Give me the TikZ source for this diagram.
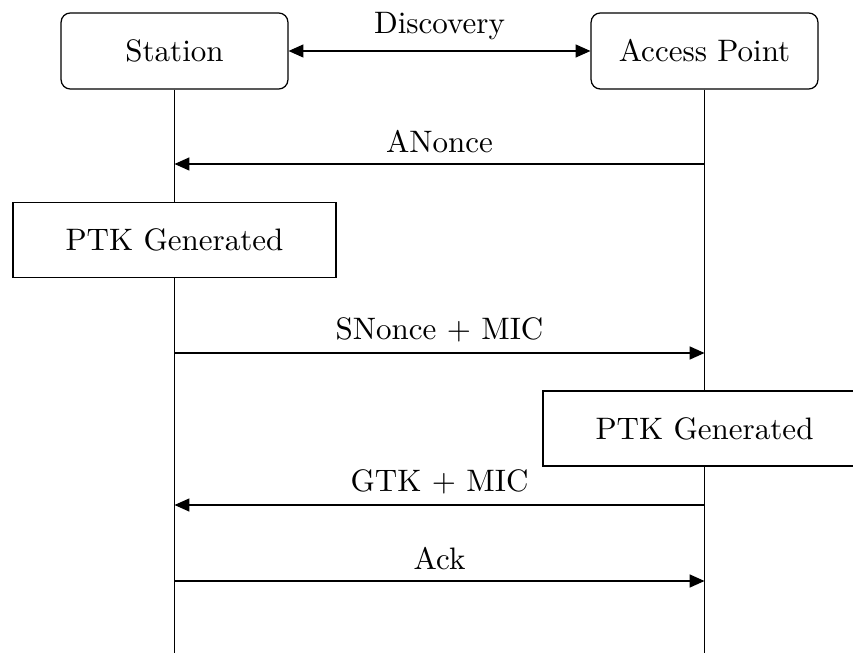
\documentclass[tikz,border=0pt]{standalone}
\usetikzlibrary{arrows.meta}
\begin{document}
\begin{tikzpicture}[x=0.3222pt,y=-0.3222pt,
  tip/.tip={Triangle[length=4.8pt,width=4.2pt]},
  actor/.style={draw,rounded corners=3pt,minimum width=73.1pt,minimum height=24.5pt,inner sep=0pt},
  eventbox/.style={draw,minimum width=104.1pt,minimum height=24.2pt,inner sep=0pt},
  msg/.style={-tip},
  twoway/.style={tip-tip}]
\useasboundingbox (0,0) rectangle (853,652);
% actors
\node[actor] (st) at (174.5,51) {Station};
\node[actor] (ap) at (704.5,51) {Access Point};
% event boxes
\node[eventbox] (p1) at (174.5,240) {PTK Generated};
\node[eventbox] (p2) at (704.5,428.5) {PTK Generated};
% lifeline points
\coordinate (sEnd) at (174.5,660);
\coordinate (aEnd) at (704.5,660);
\coordinate (s1) at (174.5,164);
\coordinate (a1) at (704.5,164);
\coordinate (s2) at (174.5,353);
\coordinate (a2) at (704.5,353);
\coordinate (s3) at (174.5,505);
\coordinate (a3) at (704.5,505);
\coordinate (s4) at (174.5,581);
\coordinate (a4) at (704.5,581);
% lifelines
\draw (st.south) -- (p1.north);
\draw (p1.south) -- (sEnd);
\draw (ap.south) -- (p2.north);
\draw (p2.south) -- (aEnd);
% messages
\draw[twoway] (st) -- node[above] (dl) {Discovery} (ap);
\draw[msg] (a1) -- node[above] (l1) {ANonce} (s1);
\draw[msg] (s2) -- node[above] (l2) {SNonce + MIC} (a2);
\draw[msg] (a3) -- node[above] (l3) {GTK + MIC} (s3);
\draw[msg] (s4) -- node[above] (l4) {Ack} (a4);
\end{tikzpicture}
\end{document}
